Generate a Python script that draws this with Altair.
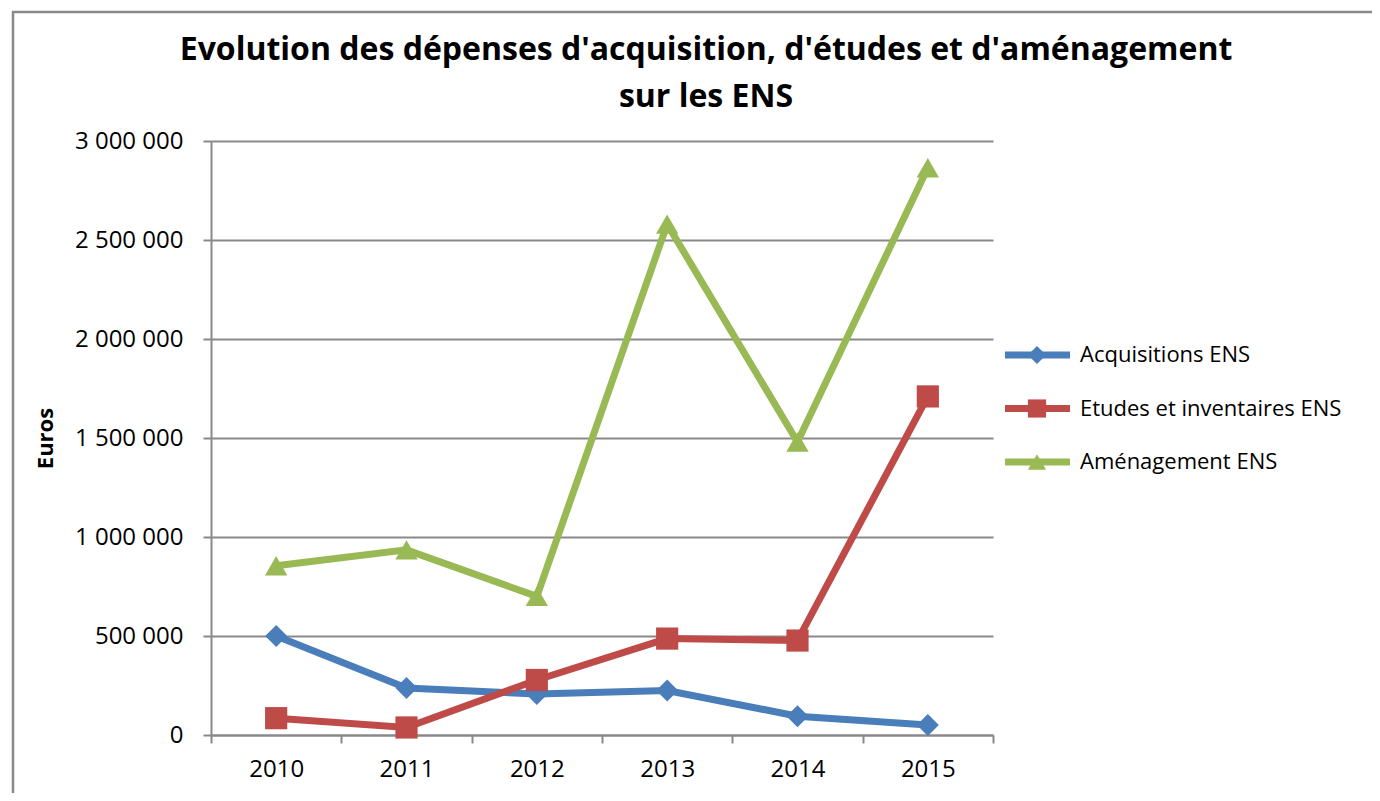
import altair as alt
import pandas as pd

years = ["2010", "2011", "2012", "2013", "2014", "2015"]
series = ["Acquisitions ENS", "Etudes et inventaires ENS", "Aménagement ENS"]
acquisitions = [500000, 237000, 207000, 225000, 95000, 50000]
etudes = [85000, 38000, 278000, 487000, 477000, 1710000]
amenagement = [855000, 935000, 700000, 2580000, 1480000, 2865000]
y_ticks = [0, 500000, 1000000, 1500000, 2000000, 2500000, 3000000]
colors = ["#4A7EBB", "#BE4B48", "#98B954"]
shapes = ["diamond", "square", "triangle-up"]
marker_sizes = [484, 500, 576]
title_lines = ["Evolution des dépenses d'acquisition, d'études et d'aménagement", "sur les ENS"]

rows = []
for name, vals in zip(series, [acquisitions, etudes, amenagement]):
    for yr, v in zip(years, vals):
        rows.append({"year": yr, "series": name, "value": v})
df = pd.DataFrame(rows)
leg_df = pd.DataFrame({"series": series})
one_df = pd.DataFrame({"a": [0]})

FONT = "Open Sans"
GRAY = "#898989"

color = alt.Color("series:N", scale=alt.Scale(domain=series, range=colors), legend=None)
shape = alt.Shape("series:N", scale=alt.Scale(domain=series, range=shapes), legend=None)
msize = alt.Size("series:N", scale=alt.Scale(domain=series, range=marker_sizes), legend=None)

x = alt.X(
    "year:O",
    sort=years,
    scale=alt.Scale(type="band", paddingInner=0, paddingOuter=0),
    axis=alt.Axis(title=None, tickBand="extent", labelAngle=0, grid=False,
                  labelPadding=14, labelFontSize=24),
)
y = alt.Y(
    "value:Q",
    scale=alt.Scale(domain=[0, 3000000], nice=False, zero=True),
    axis=alt.Axis(
        orient="left",
        values=y_ticks,
        grid=True,
        labelExpr="replace(replace(format(datum.value, ','), ',', ' '), ',', ' ')",
        labelPadding=20,
        labelFontSize=24,
        title="Euros",
        titleFont=FONT,
        titleFontSize=22,
        titleFontWeight="bold",
        titleX=-166,
        titleY=297,
        titleAngle=270,
        titleAlign="center",
        titleBaseline="middle",
        titleColor="black",
    ),
)

line = alt.Chart(df).mark_line(strokeWidth=7).encode(
    x=x, y=y, color=color, detail="series:N", order=alt.Order("year:O")
)
points = alt.Chart(df).mark_point(filled=True, opacity=1).encode(
    x=x, y=y, color=color, shape=shape, size=msize
)
main = alt.layer(line, points)

leg_y = alt.Y("series:N", sort=series,
              scale=alt.Scale(type="point", domain=series, range=[214, 321], padding=0),
              axis=None)
leg_rule = alt.Chart(leg_df).mark_rule(strokeWidth=7).encode(
    x=alt.value(794), x2=alt.value(859), y=leg_y, color=color
)
leg_pt = alt.Chart(leg_df).mark_point(filled=True, opacity=1, size=330).encode(
    x=alt.value(826), y=leg_y, color=color, shape=shape
)
leg_txt = alt.Chart(leg_df).mark_text(
    align="left", baseline="middle", font=FONT, fontSize=22, color="black"
).encode(x=alt.value(869), y=leg_y, text="series:N")
legend = alt.layer(leg_rule, leg_pt, leg_txt)

frame = alt.Chart(one_df).mark_rect(fillOpacity=0, stroke=GRAY, strokeWidth=2.5).encode(
    x=alt.value(-198), x2=alt.value(1200), y=alt.value(-129), y2=alt.value(700)
)

title_style = dict(align="center", baseline="middle", font=FONT, fontSize=32,
                   fontWeight="bold", color="black")
title1 = alt.Chart(one_df).mark_text(**title_style).encode(
    x=alt.value(495), y=alt.value(-91), text=alt.value(title_lines[0])
)
title2 = alt.Chart(one_df).mark_text(**title_style).encode(
    x=alt.value(495), y=alt.value(-44), text=alt.value(title_lines[1])
)

chart = (
    alt.layer(frame, title1, title2, main, legend)
    .resolve_scale(y="independent", size="independent")
    .properties(
        width=782,
        height=594,
        autosize=alt.AutoSizeParams(type="none"),
        padding={"left": 203, "top": 133, "right": 379, "bottom": 58},
    )
    .configure_view(stroke=None)
    .configure_axis(
        domainColor=GRAY,
        domainWidth=2,
        tickColor=GRAY,
        tickWidth=2,
        tickSize=8,
        gridColor=GRAY,
        gridWidth=2,
        labelFont=FONT,
        labelColor="black",
    )
)

chart.save("out.html", embed_options={"renderer": "svg", "actions": False})
